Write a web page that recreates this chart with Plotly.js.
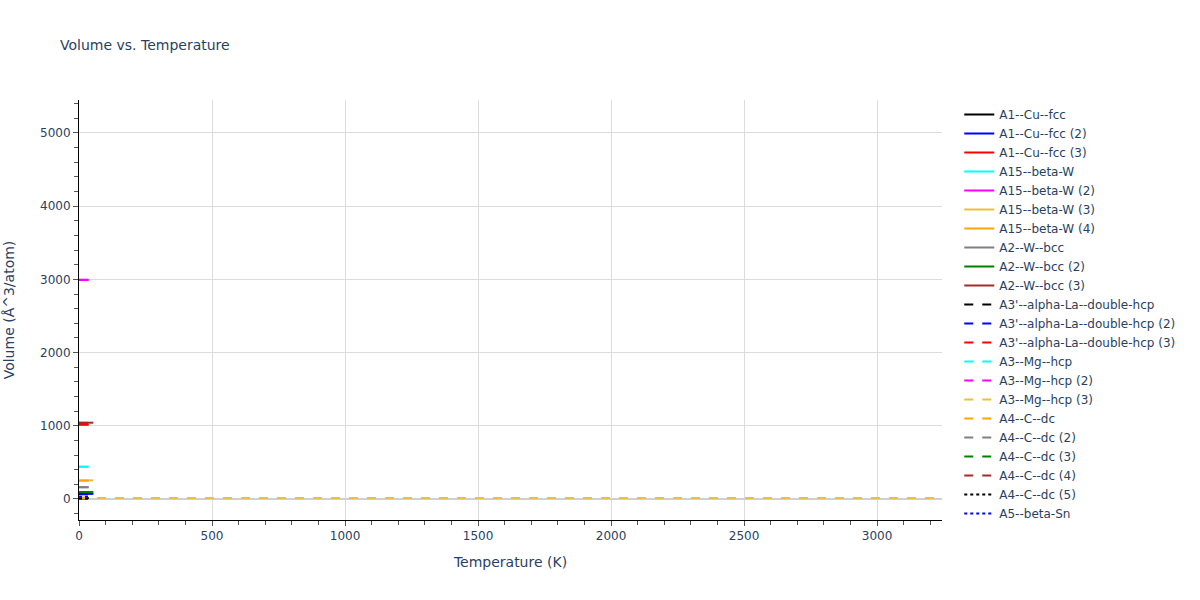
<!DOCTYPE html>
<html>
<head>
<meta charset="utf-8">
<script src="https://cdn.plot.ly/plotly-3.0.1.min.js"></script>
<style>html,body{margin:0;padding:0;background:#fff;}#chart{width:1200px;height:600px;}</style>
</head>
<body>
<div id="chart"></div>
<script>
const names = [
  "A1--Cu--fcc", "A1--Cu--fcc (2)", "A1--Cu--fcc (3)",
  "A15--beta-W", "A15--beta-W (2)", "A15--beta-W (3)", "A15--beta-W (4)",
  "A2--W--bcc", "A2--W--bcc (2)", "A2--W--bcc (3)",
  "A3'--alpha-La--double-hcp", "A3'--alpha-La--double-hcp (2)", "A3'--alpha-La--double-hcp (3)",
  "A3--Mg--hcp", "A3--Mg--hcp (2)", "A3--Mg--hcp (3)",
  "A4--C--dc", "A4--C--dc (2)", "A4--C--dc (3)", "A4--C--dc (4)", "A4--C--dc (5)",
  "A5--beta-Sn"
];
const colors = [
  "black", "blue", "red",
  "cyan", "magenta", "#EBC03A", "orange",
  "gray", "green", "brown",
  "black", "blue", "red",
  "cyan", "magenta", "#EBC03A",
  "orange", "gray", "green", "brown", "black",
  "blue"
];
const dashes = [
  "solid", "solid", "solid",
  "solid", "solid", "solid", "solid",
  "solid", "solid", "solid",
  "dash", "dash", "dash",
  "dash", "dash", "dash",
  "dash", "dash", "dash", "dash", "dot",
  "dot"
];

// Temperatures (K) for each series
const temps = [
  [0, 37], [0, 54], [0, 37],
  [0, 37], [0, 37], [0, 54], [0, 37],
  [0, 37], [0, 54], [0, 54],
  [0, 54], [0, 54], [0, 37],
  [0, 37], [0, 37], [0, 3244],
  [0, 37], [0, 37], [0, 54], [0, 37], [0, 37],
  [0, 37]
];
// Volumes (Å^3/atom) for each series
const volumes = [
  [12, 12], [70, 70], [1015, 1015],
  [441, 441], [2992, 2992], [255, 255], [250, 250],
  [160, 160], [96, 96], [1042, 1042],
  [8, 8], [64, 64], [1020, 1020],
  [440, 440], [2995, 2995], [13, 13],
  [20, 20], [162, 162], [94, 94], [1040, 1040], [6, 6],
  [30, 30]
];

const traces = names.map((n, i) => ({
  type: "scatter",
  mode: "lines",
  name: n,
  x: temps[i],
  y: volumes[i],
  line: {color: colors[i], dash: dashes[i], width: 2}
}));

const layout = {
  width: 1200, height: 600,
  paper_bgcolor: "white", plot_bgcolor: "white",
  font: {family: "Verdana, 'DejaVu Sans', sans-serif", color: "#2a3f5f", size: 12},
  title: {text: "Volume vs. Temperature", x: 0.05, xanchor: "left", y: 0.925, yanchor: "middle", font: {size: 14}},
  margin: {l: 79, r: 258, t: 100, b: 80},
  xaxis: {
    title: {text: "Temperature (K)", font: {size: 14}, standoff: 14},
    range: [0, 3244],
    showline: true, linecolor: "black", linewidth: 1,
    ticks: "outside", tickcolor: "#555", ticklen: 5,
    dtick: 500,
    gridcolor: "#dcdcdc", zeroline: false,
    minor: {dtick: 100, ticks: "outside", ticklen: 4, tickcolor: "#555", showgrid: false}
  },
  yaxis: {
    title: {text: "Volume (Å^3/atom)", font: {size: 14}, standoff: 22},
    range: [-287, 5450],
    showline: true, linecolor: "black", linewidth: 1,
    ticks: "outside", tickcolor: "#555", ticklen: 5,
    dtick: 1000,
    gridcolor: "#dcdcdc", zeroline: true, zerolinecolor: "#d0d0d0", zerolinewidth: 2,
    minor: {dtick: 200, ticks: "outside", ticklen: 4, tickcolor: "#555", showgrid: false}
  },
  legend: {x: 1.02, y: 1, xanchor: "left", yanchor: "top", font: {size: 12}, maxheight: 560},
  showlegend: true
};

Plotly.newPlot("chart", traces, layout, {displayModeBar: false});
</script>
</body>
</html>
